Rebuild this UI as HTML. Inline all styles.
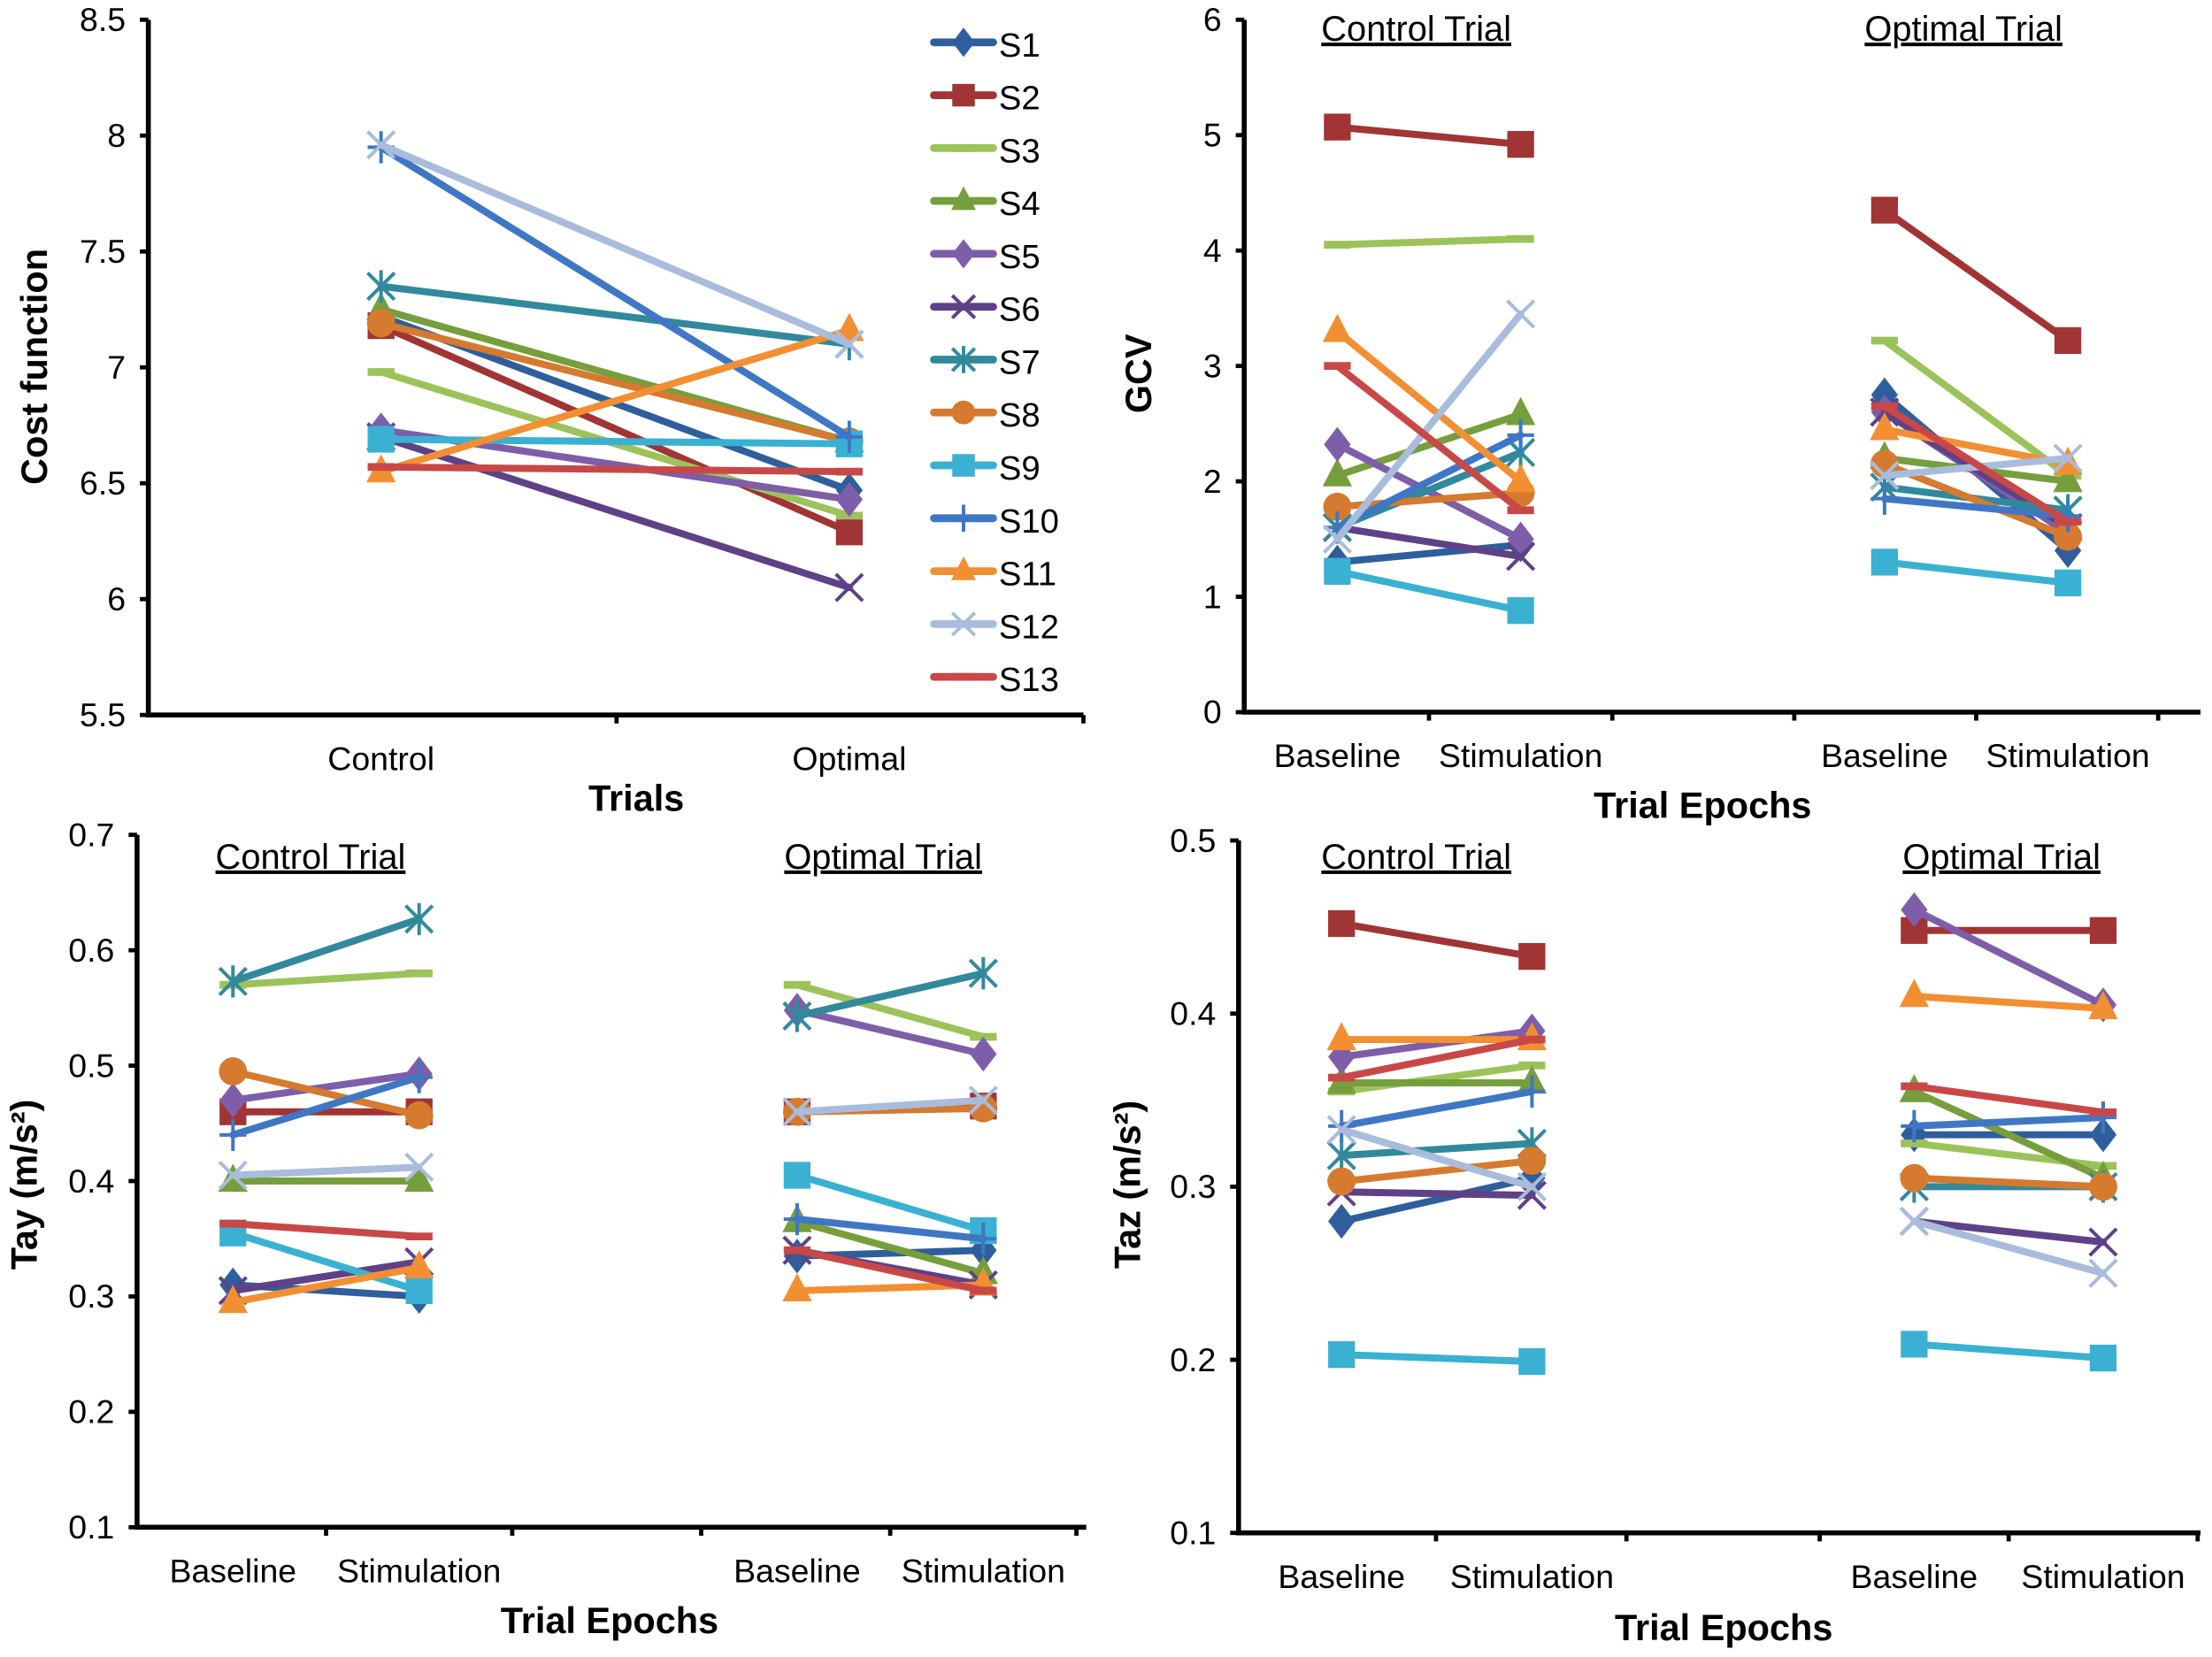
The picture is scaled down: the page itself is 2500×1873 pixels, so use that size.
<!DOCTYPE html>
<html><head><meta charset="utf-8"><style>
html,body{margin:0;padding:0;background:#fff;}
svg{display:block;}
text{font-family:"Liberation Sans",Arial,sans-serif;fill:#000;}
</style></head><body>
<svg id="chart" width="2500" height="1873" viewBox="0 0 1568 1175" xmlns="http://www.w3.org/2000/svg"></svg>
<script>
const seriesNames = ["S1","S2","S3","S4","S5","S6","S7","S8","S9","S10","S11","S12","S13"];
const seriesColors = ["#2f5e9c","#a13434","#9bc35a","#779e3d","#7e5ea8","#5e4187","#32899c","#d57a2f","#3ab1d2","#3f77c4","#f28f33","#a9bcdc","#c84848"];
const seriesMarkers = ["diamond","square","dash","triangle","diamond","x","star","circle","square","plus","triangle","x","dash"];

const costCats = ["Control","Optimal"];
const costTicks = ["5.5","6","6.5","7","7.5","8","8.5"];
const costVals = [[7.22,6.47],[7.18,6.29],[6.98,6.36],[7.25,6.68],[6.73,6.43],[6.70,6.05],[7.35,7.10],[7.19,6.68],[6.69,6.67],[7.95,6.70],[6.55,7.16],[7.96,7.10],[6.57,6.55]];

const epochCats = ["Baseline","Stimulation","Baseline","Stimulation"];
const gcvTicks = ["0","1","2","3","4","5","6"];
const gcvVals = [[1.3,1.45,2.75,1.4],[5.07,4.92,4.35,3.22],[4.05,4.1,3.22,2.05],[2.05,2.58,2.2,2.0],[2.32,1.5,2.6,1.55],[1.6,1.35,2.6,1.6],[1.6,2.25,1.95,1.75],[1.78,1.9,2.15,1.52],[1.22,0.88,1.3,1.12],[1.6,2.4,1.85,1.7],[3.3,2.0,2.45,2.15],[1.5,3.45,2.05,2.2],[3.0,1.75,2.65,1.65]];

const tayTicks = ["0.1","0.2","0.3","0.4","0.5","0.6","0.7"];
const tayVals = [[0.31,0.30,0.335,0.34],[0.46,0.46,0.46,0.465],[0.57,0.58,0.57,0.525],[0.40,0.40,0.365,0.32],[0.47,0.493,0.548,0.51],[0.305,0.33,0.34,0.31],[0.573,0.627,0.543,0.58],[0.495,0.457,0.46,0.463],[0.355,0.305,0.405,0.357],[0.44,0.49,0.367,0.35],[0.295,0.325,0.305,0.31],[0.405,0.412,0.46,0.47],[0.363,0.352,0.34,0.305]];

const tazTicks = ["0.1","0.2","0.3","0.4","0.5"];
const tazVals = [[0.28,0.305,0.33,0.33],[0.452,0.433,0.448,0.448],[0.355,0.37,0.325,0.312],[0.36,0.36,0.355,0.305],[0.375,0.39,0.46,0.405],[0.297,0.295,0.28,0.268],[0.318,0.325,0.30,0.30],[0.303,0.315,0.305,0.30],[0.203,0.199,0.209,0.201],[0.335,0.355,0.335,0.34],[0.385,0.385,0.41,0.403],[0.333,0.30,0.28,0.25],[0.363,0.385,0.358,0.343]];

const NS="http://www.w3.org/2000/svg";
const svg=document.getElementById('chart');
function el(tag,attrs,parent){const e=document.createElementNS(NS,tag);for(const k in attrs)e.setAttribute(k,attrs[k]);(parent||svg).appendChild(e);return e;}
function txt(s,x,y,opts,parent){const t=el('text',Object.assign({x:x,y:y,'font-size':23.5,'text-anchor':'middle'},opts||{}),parent);t.textContent=s;return t;}

function marker(g,type,x,y,c,s){
  s=s||9.5;
  if(type==="diamond") el('polygon',{points:`${x},${y-s*1.3} ${x+s},${y} ${x},${y+s*1.3} ${x-s},${y}`,fill:c},g);
  else if(type==="square") el('rect',{x:x-s,y:y-s,width:2*s,height:2*s,fill:c},g);
  else if(type==="triangle") el('polygon',{points:`${x},${y-s*1.3} ${x+s*1.1},${y+s*0.8} ${x-s*1.1},${y+s*0.8}`,fill:c},g);
  else if(type==="circle") el('circle',{cx:x,cy:y,r:s*1.05,fill:c},g);
  else if(type==="dash") el('line',{x1:x-s,y1:y,x2:x+s,y2:y,stroke:c,'stroke-width':5.5},g);
  else if(type==="x"){el('path',{d:`M${x-s},${y-s}L${x+s},${y+s}M${x-s},${y+s}L${x+s},${y-s}`,stroke:c,'stroke-width':2.5},g);}
  else if(type==="star"){el('path',{d:`M${x-s},${y-s}L${x+s},${y+s}M${x-s},${y+s}L${x+s},${y-s}M${x},${y-s*1.2}L${x},${y+s*1.2}`,stroke:c,'stroke-width':2.5},g);}
  else if(type==="plus"){el('path',{d:`M${x-s},${y}L${x+s},${y}M${x},${y-s*1.2}L${x},${y+s*1.2}`,stroke:c,'stroke-width':2.5},g);}
}

function panel(cfg){
  const g=el('g',{});
  
  
  const t0=parseFloat(cfg.ticks[0]),t1=parseFloat(cfg.ticks[cfg.ticks.length-1]);
  const ys=v=>cfg.yBot-(v-t0)/(t1-t0)*(cfg.yBot-cfg.yTop);
  const xs=i=>cfg.catX[i];
  const ax=el('path',{d:`M${cfg.x0},${cfg.yTop}L${cfg.x0},${cfg.yBot}L${cfg.x1},${cfg.yBot}`,stroke:'#000','stroke-width':3.5,fill:'none'},g);
  
  
  cfg.ticks.forEach(tl=>{const y=ys(parseFloat(tl));
    el('line',{x1:cfg.x0-6,y1:y,x2:cfg.x0,y2:y,stroke:'#000','stroke-width':3},g);
    const t=txt(tl,cfg.x0-16,y+8,{'text-anchor':'end'},g);
    
    });
  cfg.xTicks.forEach(x=>el('line',{x1:x,y1:cfg.yBot,x2:x,y2:cfg.yBot+6,stroke:'#000','stroke-width':3},g));
  cfg.cats.forEach((c,i)=>{const t=txt(c,xs(i),cfg.catY,{},g);
    
    });
  const xt=txt(cfg.xTitle,cfg.xTitleX,cfg.xTitleY,{'font-size':26,'font-weight':'bold'},g);
  
  
  const yt=txt(cfg.yTitle,0,0,{'font-size':26,'font-weight':'bold',transform:`translate(${cfg.yTitleX},${cfg.yTitleY}) rotate(-90)`},g);
  
  
  (cfg.groupTitles||[]).forEach(gt=>{const t=txt(gt[0],gt[1],gt[2],{'font-size':25,'text-decoration':'underline'},g);
    
    });
  cfg.vals.forEach((row,si)=>{
    const sg=el('g',{},g);
    
    
    const c=seriesColors[si];
    cfg.segments.forEach(seg=>{
      const pts=seg.map(i=>`${xs(i)},${ys(row[i])}`).join(' ');
      el('polyline',{points:pts,stroke:c,'stroke-width':5,fill:'none','stroke-linecap':'round'},sg);
      seg.forEach(i=>{marker(sg,seriesMarkers[si],xs(i),ys(row[i]),c);});
    });
  });
  return g;
}

panel({name:'cost-function-panel',ticks:costTicks,vals:costVals,cats:costCats,x0:105,x1:768,yTop:14,yBot:507,catX:[270,602],catY:546,xTicks:[437,768],segments:[[0,1]],xTitle:'Trials',xTitleX:451,xTitleY:575,yTitle:'Cost function',yTitleX:33,yTitleY:260});
panel({name:'gcv-panel',ticks:gcvTicks,vals:gcvVals,cats:epochCats,x0:882,x1:1560,yTop:14,yBot:505,catX:[948,1078,1336,1466],catY:544,xTicks:[1013,1143,1272,1401,1530],segments:[[0,1],[2,3]],xTitle:'Trial Epochs',xTitleX:1207,xTitleY:580,yTitle:'GCV',yTitleX:816,yTitleY:265,groupTitles:[['Control Trial',1004,29],['Optimal Trial',1392,29]]});
panel({name:'tay-panel',ticks:tayTicks,vals:tayVals,cats:epochCats,x0:97,x1:770,yTop:592,yBot:1083,catX:[165,297,565,697],catY:1122,xTicks:[231,363,497,631,763],segments:[[0,1],[2,3]],xTitle:'Trial Epochs',xTitleX:432,xTitleY:1158,yTitle:'Tay (m/s²)',yTitleX:26,yTitleY:840,groupTitles:[['Control Trial',220,616],['Optimal Trial',626,616]]});
panel({name:'taz-panel',ticks:tazTicks,vals:tazVals,cats:epochCats,x0:878,x1:1560,yTop:596,yBot:1087,catX:[951,1086,1357,1491],catY:1126,xTicks:[1018,1153,1290,1424,1558],segments:[[0,1],[2,3]],xTitle:'Trial Epochs',xTitleX:1222,xTitleY:1163,yTitle:'Taz (m/s²)',yTitleX:808,yTitleY:840,groupTitles:[['Control Trial',1004,616],['Optimal Trial',1419,616]]});

const lg=el('g',{});


seriesNames.forEach((n,i)=>{
  const y=30+i*37.5;
  const e=el('g',{},lg);
  
  
  el('line',{x1:662,y1:y,x2:704,y2:y,stroke:seriesColors[i],'stroke-width':5.5,'stroke-linecap':'round'},e);
  marker(e,seriesMarkers[i],683,y,seriesColors[i],8);
  txt(n,708,y+10,{'text-anchor':'start','font-size':24},e);
});
</script>
</body></html>
